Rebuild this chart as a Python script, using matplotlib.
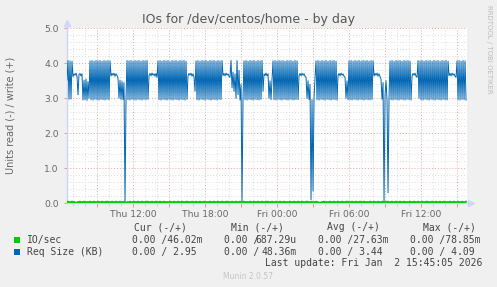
import matplotlib
matplotlib.use("Agg")
import matplotlib.pyplot as plt
from matplotlib.patches import Rectangle
import numpy as np

W, H = 497, 287

title = "IOs for /dev/centos/home - by day"
ylabel = "Units read (-) / write (+)"
side_text = "RRDTOOL / TOBI OETIKER"
footer = "Munin 2.0.57"
last_update = "Last update: Fri Jan  2 15:45:05 2026"

# time axis (hours since Thu 00:00), 5-minute samples
start_hour = 6.5
step_hours = 5.0 / 60.0
end_hour = 39.83
label_hours = [12, 18, 24, 30, 36]
label_texts = ["Thu 12:00", "Thu 18:00", "Fri 00:00", "Fri 06:00", "Fri 12:00"]

# Req Size (KB), write side
req_size = [
    3.52, 4.08, 2.97, 4.07, 2.98, 4.06,
    3.62, 3.70, 3.66, 3.72, 3.63, 3.10, 3.68, 3.71, 3.64, 3.70,
    2.95, 3.52, 2.96, 3.55, 2.94, 3.48, 3.00,
    4.07, 2.96, 4.08, 2.95, 4.06, 2.97, 4.08, 2.96, 4.07, 2.95, 4.08, 2.97, 4.06, 2.96, 4.08, 2.95, 4.07, 2.97, 4.08, 2.96, 4.07,
    3.64, 3.71, 3.66, 3.72, 3.63, 3.70, 3.65, 3.58,
    3.00, 3.52, 2.97, 3.48, 2.96, 3.45,
    0.05,
    2.98, 4.08,
    2.96, 4.07, 2.95, 4.08, 2.97, 4.06, 2.96, 4.08, 2.95, 4.07, 2.97, 4.08, 2.96, 4.06, 2.95, 4.08, 2.97, 4.07, 2.96, 4.08, 2.97,
    3.65, 3.71, 3.64, 3.72, 3.66, 3.70, 3.63, 3.71, 3.60,
    4.07, 2.96, 4.08, 2.95, 4.06, 2.97, 4.08, 2.96, 4.07, 2.95, 4.08, 2.97, 4.05, 2.96, 4.08, 2.95, 4.07, 2.97, 4.08, 2.96, 4.06, 2.95, 4.08, 2.97, 4.07, 2.96, 4.08, 2.95, 4.06, 2.97,
    3.64, 3.71, 3.66, 3.72, 3.63, 3.70, 3.62,
    3.20,
    4.07, 2.96, 4.08, 2.95, 4.06, 2.97, 4.08, 2.96, 4.07, 2.95, 4.08, 2.97, 4.06, 2.96, 4.08, 2.95, 4.07, 2.97, 4.08, 2.96, 4.06, 2.95, 4.08, 2.97, 4.07, 2.96, 4.08,
    3.65, 3.71, 3.64, 3.72, 3.66, 3.70, 3.63, 3.60,
    4.08, 3.30, 3.75, 3.20, 3.70, 3.00, 4.08, 3.10, 3.80, 2.95,
    3.40, 0.05, 3.00, 4.07,
    2.96, 4.08, 2.95, 4.06, 2.97, 4.08, 2.96, 4.07, 2.95, 4.08, 2.97, 4.06, 2.96, 4.08, 2.95, 4.07, 2.97, 4.08,
    3.20, 3.70, 3.65, 3.72, 3.64, 3.70,
    3.00, 3.50, 2.96, 3.55,
    4.07, 2.96, 4.08, 2.95, 4.06, 2.97, 4.08, 2.96, 4.07, 2.95, 4.08, 2.97, 4.06, 2.96, 4.08, 2.95, 4.07, 2.97, 4.08, 2.96, 4.06, 2.95, 4.08, 2.97, 4.07, 2.96,
    3.65, 3.71, 3.64, 3.72, 3.66, 3.70, 3.63, 3.60,
    3.00, 3.50, 2.96, 3.40,
    0.10, 2.96, 0.35, 3.00, 3.60,
    4.07, 2.96, 4.08, 2.95, 4.06, 2.97, 4.08, 2.96, 4.07, 2.95, 4.08, 2.97, 4.06, 2.96, 4.08, 2.95, 4.07, 2.97, 4.08, 2.96, 4.06, 2.95,
    3.65, 3.71, 3.64, 3.72, 3.66, 3.70, 3.63, 3.60,
    3.00, 3.50, 2.96,
    4.07, 2.96, 4.08, 2.95, 4.06, 2.97, 4.08, 2.96, 4.07, 2.95, 4.08, 2.97, 4.06, 2.96, 4.08, 2.95, 4.07, 2.97, 4.08, 2.96, 4.06, 2.95, 4.08, 2.97, 4.07,
    3.64, 3.71, 3.66, 3.72, 3.63, 3.70, 3.62,
    3.55, 2.97, 3.45, 0.03, 3.10, 3.50, 2.95, 0.30, 3.00,
    4.07, 2.96, 4.08, 2.95, 4.06, 2.97, 4.08, 2.96, 4.07, 2.95, 4.08, 2.97, 4.06, 2.96, 4.08, 2.95, 4.07, 2.97, 4.08, 2.96, 4.06, 2.95,
    3.64, 3.71, 3.66, 3.72, 3.63, 3.60,
    4.08,
    3.00,
    4.07, 2.96, 4.08, 2.95, 4.06, 2.97, 4.08, 2.96, 4.07, 2.95, 4.08, 2.97, 4.06, 2.96, 4.08, 2.95, 4.07, 2.97, 4.08, 2.96, 4.06, 2.95, 4.08, 2.97, 4.07, 2.96, 4.08, 2.95, 4.06,
    3.65, 3.71, 3.64, 3.72, 3.66, 3.70, 3.63, 3.60,
    4.07, 2.96, 4.08, 2.95, 4.06, 2.97, 4.08, 2.96, 4.07, 2.95,
]

# IO/sec, write side
io_sec = [
    0.03, 0.05, 0.02, 0.04, 0.03, 0.05, 0.02, 0.04, 0.03, 0.01, 0.02, 0.04, 0.03, 0.05, 0.02, 0.04, 0.03, 0.05, 0.02, 0.04,
    0.03, 0.04, 0.02, 0.05, 0.03, 0.04, 0.02, 0.05, 0.03, 0.04, 0.02, 0.05, 0.03, 0.04, 0.02, 0.05, 0.03, 0.04, 0.02, 0.05,
    0.03, 0.05, 0.02, 0.04, 0.03, 0.05, 0.02, 0.04, 0.03, 0.05, 0.02, 0.04, 0.03, 0.05, 0.02, 0.04, 0.03, 0.05, 0.01, 0.02,
    0.03, 0.04, 0.02, 0.05, 0.03, 0.04, 0.02, 0.05, 0.03, 0.04, 0.02, 0.05, 0.03, 0.04, 0.02, 0.05, 0.03, 0.04, 0.02, 0.05,
    0.03, 0.05, 0.02, 0.04, 0.03, 0.05, 0.02, 0.04, 0.03, 0.05, 0.02, 0.04, 0.03, 0.05, 0.02, 0.04, 0.03, 0.05, 0.02, 0.04,
    0.03, 0.04, 0.02, 0.05, 0.03, 0.04, 0.02, 0.05, 0.03, 0.04, 0.02, 0.05, 0.03, 0.04, 0.02, 0.05, 0.03, 0.04, 0.02, 0.05,
    0.03, 0.05, 0.02, 0.04, 0.03, 0.05, 0.02, 0.04, 0.03, 0.05, 0.02, 0.04, 0.03, 0.05, 0.02, 0.04, 0.03, 0.05, 0.02, 0.04,
    0.03, 0.04, 0.02, 0.05, 0.03, 0.04, 0.02, 0.05, 0.03, 0.04, 0.02, 0.05, 0.03, 0.04, 0.02, 0.05, 0.03, 0.04, 0.02, 0.05,
    0.03, 0.05, 0.02, 0.04, 0.03, 0.05, 0.02, 0.04, 0.03, 0.05, 0.02, 0.04, 0.03, 0.05, 0.02, 0.04, 0.03, 0.05, 0.02, 0.04,
    0.03, 0.04, 0.02, 0.05, 0.03, 0.04, 0.02, 0.05, 0.03, 0.04, 0.02, 0.05, 0.03, 0.04, 0.02, 0.05, 0.03, 0.04, 0.02, 0.05,
    0.03, 0.05, 0.02, 0.04, 0.03, 0.05, 0.02, 0.04, 0.03, 0.05, 0.02, 0.04, 0.03, 0.05, 0.02, 0.04, 0.03, 0.05, 0.02, 0.04,
    0.03, 0.04, 0.02, 0.05, 0.03, 0.04, 0.02, 0.05, 0.03, 0.04, 0.02, 0.05, 0.03, 0.04, 0.02, 0.05, 0.03, 0.04, 0.02, 0.05,
    0.03, 0.05, 0.02, 0.04, 0.03, 0.05, 0.02, 0.04, 0.03, 0.05, 0.02, 0.04, 0.01, 0.02, 0.02, 0.04, 0.03, 0.05, 0.02, 0.04,
    0.03, 0.04, 0.02, 0.05, 0.03, 0.04, 0.02, 0.05, 0.03, 0.04, 0.02, 0.05, 0.03, 0.04, 0.02, 0.05, 0.03, 0.04, 0.02, 0.05,
    0.03, 0.05, 0.02, 0.04, 0.03, 0.05, 0.02, 0.04, 0.03, 0.05, 0.02, 0.04, 0.03, 0.05, 0.02, 0.04, 0.03, 0.05, 0.02, 0.04,
    0.03, 0.04, 0.02, 0.05, 0.03, 0.04, 0.02, 0.05, 0.03, 0.04, 0.02, 0.05, 0.03, 0.04, 0.02, 0.05, 0.03, 0.04, 0.02, 0.05,
    0.03, 0.05, 0.02, 0.04, 0.03, 0.05, 0.02, 0.04, 0.03, 0.05, 0.02, 0.04, 0.03, 0.05, 0.02, 0.04, 0.03, 0.05, 0.02, 0.04,
    0.03, 0.04, 0.02, 0.05, 0.03, 0.04, 0.02, 0.05, 0.03, 0.04, 0.02, 0.05, 0.03, 0.04, 0.02, 0.05, 0.03, 0.04, 0.02, 0.05,
    0.03, 0.05, 0.02, 0.04, 0.03, 0.05, 0.02, 0.04, 0.03, 0.05, 0.02, 0.04, 0.03, 0.05, 0.02, 0.04, 0.03, 0.05, 0.02, 0.04,
    0.03, 0.04, 0.02, 0.05, 0.03, 0.04, 0.02, 0.05, 0.03, 0.04, 0.02, 0.05, 0.03, 0.04, 0.02, 0.05, 0.03, 0.04, 0.02, 0.05,
]

legend_names = ["IO/sec", "Req Size (KB)"]
legend_colors = ["#00CC00", "#0066B3"]
col_headers = ["Cur (-/+)", "Min (-/+)", "Avg (-/+)", "Max (-/+)"]
cur_vals = ["0.00 /46.02m", "0.00 / 2.95"]
min_vals = [("0.00 /", "687.29u"), ("0.00 /", "48.36m")]
avg_vals = ["0.00 /27.63m", "0.00 / 3.44"]
max_vals = ["0.00 /78.85m", "0.00 / 4.09"]

FONT = "#666666"
AXIS = "#CFD6F8"


def fx(px):
    return px / W


def fy(py):
    return 1 - py / H


fig = plt.figure(figsize=(W / 100, H / 100), dpi=100, facecolor="#F0F0F0")
ax = fig.add_axes([fx(67), fy(203.3), 400 / W, 175 / H], facecolor="white")

x_req = start_hour + np.arange(len(req_size)) * step_hours
x_io = start_hour + np.arange(len(io_sec)) * step_hours

ax.plot(x_req, req_size, color=legend_colors[1], lw=0.7, zorder=3)
ax.plot(x_io, io_sec, color=legend_colors[0], lw=1.3, zorder=4)

ax.set_xlim(start_hour, end_hour)
ax.set_ylim(0, 5)

# grid
major_x = np.arange(9, 40, 3)
minor_x = np.arange(7, 40, 1)
ax.set_xticks(major_x)
ax.set_xticks(minor_x, minor=True)
lab_map = dict(zip(label_hours, label_texts))
ax.set_xticklabels([lab_map.get(int(h), "") for h in major_x])
ax.set_yticks(np.arange(0, 5.01, 1))
ax.set_yticklabels(["%.1f" % v for v in np.arange(0, 5.01, 1)])
ax.set_yticks(np.arange(0, 5.01, 0.2), minor=True)

dots = (0, (1, 2))
ax.grid(which="minor", color="#DDDDDD", ls=dots, lw=0.7, zorder=1)
ax.grid(which="major", color="#EBA5A5", ls=dots, lw=0.7, zorder=2)

ax.tick_params(axis="x", which="major", length=3, width=0.7, color="#F09090",
               labelsize=6.6, labelcolor=FONT, pad=2)
ax.tick_params(axis="x", which="minor", length=2, width=0.6, color="#CCCCCC")
ax.tick_params(axis="y", which="major", length=2, width=0.7, color="#F09090",
               labelsize=6.6, labelcolor=FONT, pad=4)
ax.tick_params(axis="y", which="minor", length=0)

for s in ["top", "right"]:
    ax.spines[s].set_visible(False)
for s in ["left", "bottom"]:
    ax.spines[s].set_color(AXIS)
    ax.spines[s].set_linewidth(1.0)

# axis arrows
ax.plot([0, 0], [1.0, 1.025], color=AXIS, lw=1.0, transform=ax.transAxes, clip_on=False)
ax.plot([0], [1.03], marker="^", ms=4, color=AXIS, transform=ax.transAxes, clip_on=False)
ax.plot([1.0, 1.008], [0, 0], color=AXIS, lw=1.0, transform=ax.transAxes, clip_on=False)
ax.plot([1.01], [0], marker=">", ms=4, color=AXIS, transform=ax.transAxes, clip_on=False)

# texts
fig.text(fx(249), fy(19.3), title, ha="center", va="center", fontsize=9, color="#555555")
fig.text(fx(10.5), fy(115.8), ylabel, ha="center", va="center", rotation=90,
         fontsize=7, color=FONT)
fig.text(fx(489), fy(5), side_text, ha="center", va="top", rotation=270,
         fontsize=5, color="#BBBBBB")

mono = "DejaVu Sans Mono"
ms = 7.0
tc = "#444444"
header_x = [134.3, 231.0, 327.3, 422.7]
for hx, hd in zip(header_x, col_headers):
    fig.text(fx(hx), fy(227.3), hd, ha="left", va="center", family=mono, fontsize=ms, color=tc)

row_y = [240.0, 251.7]
for i in range(2):
    y = row_y[i]
    fig.add_artist(Rectangle((fx(14), fy(y + 3)), 6 / W, 6 / H, transform=fig.transFigure,
                             facecolor=legend_colors[i], edgecolor="none"))
    fig.text(fx(26.7), fy(y), legend_names[i], ha="left", va="center", family=mono,
             fontsize=ms, color=tc)
    fig.text(fx(131.7), fy(y), cur_vals[i], ha="left", va="center", family=mono,
             fontsize=ms, color=tc)
    fig.text(fx(224.5), fy(y), min_vals[i][0], ha="left", va="center", family=mono,
             fontsize=ms, color=tc)
    fig.text(fx(296.7), fy(y), min_vals[i][1], ha="right", va="center", family=mono,
             fontsize=ms, color=tc)
    fig.text(fx(317.7), fy(y), avg_vals[i], ha="left", va="center", family=mono,
             fontsize=ms, color=tc)
    fig.text(fx(410.0), fy(y), max_vals[i], ha="left", va="center", family=mono,
             fontsize=ms, color=tc)

fig.text(fx(482.3), fy(263.3), last_update, ha="right", va="center", family=mono,
         fontsize=ms, color=tc)
fig.text(fx(248), fy(276.7), footer, ha="center", va="center", fontsize=5.5, color="#C4C4C4")

fig.savefig("out.png", dpi=100, facecolor=fig.get_facecolor())
